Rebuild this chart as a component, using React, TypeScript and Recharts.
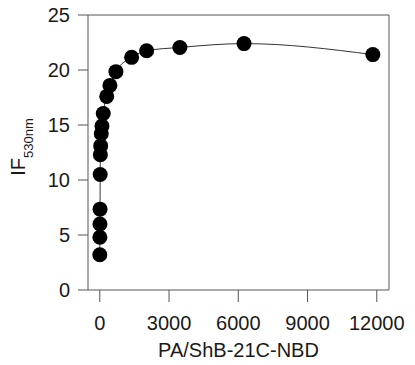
import * as React from 'react';
import {
  ComposedChart,
  Line,
  XAxis,
  YAxis,
  ReferenceLine,
} from 'recharts';

// PA/ShB-21C-NBD ratio vs fluorescence intensity at 530 nm
const ratios = [2, 5, 8, 12, 18, 25, 40, 65, 95, 150, 300, 440, 700, 1380, 2030, 3470, 6250, 11830];
const intensities = [3.2, 4.8, 6.0, 7.35, 10.5, 12.3, 13.1, 14.2, 14.9, 16.05, 17.6, 18.6, 19.85, 21.15, 21.75, 22.05, 22.4, 21.4];
const xTicks = [0, 3000, 6000, 9000, 12000];
const yTicks = [0, 5, 10, 15, 20, 25];

const X_MIN = -510;
const X_MAX = 12530;

const data = ratios.map((x, i) => ({ x, y: intensities[i] }));

const FONT = '"Liberation Sans", Arial, sans-serif';
const AXIS = '#555';
const TEXT = '#1a1a1a';

const YLabel = () => (
  <text
    x={25}
    y={147}
    transform="rotate(-90, 25, 147)"
    textAnchor="middle"
    fontFamily={FONT}
    fill={TEXT}
  >
    <tspan fontSize={20}>IF</tspan>
    <tspan fontSize={13} dy={8}>530nm</tspan>
  </text>
);

export default function App() {
  return (
    <div style={{ position: 'absolute', left: 0, top: 0, width: 415, height: 365, background: '#fff' }}>
      <ComposedChart
        width={415}
        height={365}
        data={data}
        margin={{ top: 15, right: 26, bottom: 0, left: 0 }}
      >
        <XAxis
          type="number"
          dataKey="x"
          domain={[X_MIN, X_MAX]}
          ticks={xTicks}
          allowDataOverflow
          height={75}
          tickSize={12}
          tickMargin={14}
          stroke={AXIS}
          tick={{ fill: TEXT, fontSize: 20, fontFamily: FONT }}
          label={{
            value: 'PA/ShB-21C-NBD',
            position: 'insideBottom',
            offset: 8,
            fill: TEXT,
            fontSize: 20,
            fontFamily: FONT,
          }}
        />
        <YAxis
          type="number"
          domain={[0, 25]}
          ticks={yTicks}
          width={88}
          tickSize={10}
          tickMargin={8}
          stroke={AXIS}
          tick={{ fill: TEXT, fontSize: 20, fontFamily: FONT }}
          label={<YLabel />}
        />
        <ReferenceLine y={25} stroke={AXIS} />
        <ReferenceLine x={X_MAX} stroke={AXIS} />
        <Line
          type="monotone"
          dataKey="y"
          stroke="#333"
          strokeWidth={1}
          dot={{ r: 7.5, fill: '#000', stroke: '#000', strokeWidth: 0 }}
          isAnimationActive={false}
        />
      </ComposedChart>
    </div>
  );
}
